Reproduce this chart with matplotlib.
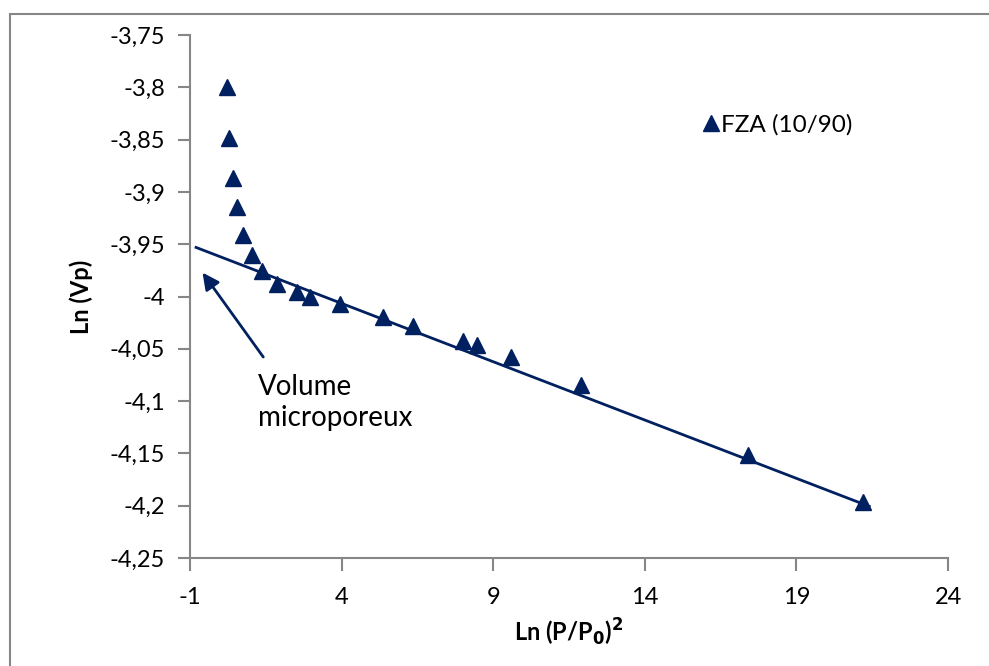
import numpy as np
import matplotlib
matplotlib.use("Agg")
import matplotlib.pyplot as plt
from matplotlib.patches import Rectangle

# data
ln_p2 = [0.22, 0.29, 0.42, 0.55, 0.75, 1.04, 1.37, 1.87, 2.53, 2.96,
         3.95, 5.37, 6.35, 8.00, 8.47, 9.59, 11.9, 17.4, 21.2]
ln_vp = [-3.800, -3.848, -3.887, -3.914, -3.941, -3.960, -3.976, -3.988, -3.996, -4.000,
         -4.007, -4.020, -4.028, -4.043, -4.046, -4.058, -4.085, -4.152, -4.196]
fit_slope = -0.01115
fit_icpt = -3.962
fit_range = [-0.8, 21.4]
series_name = "FZA (10/90)"
xticks = [-1, 4, 9, 14, 19, 24]
yticks = [-3.75, -3.8, -3.85, -3.9, -3.95, -4.0, -4.05, -4.1, -4.15, -4.2, -4.25]

navy = "#002060"
grey = "#868686"
plt.rcParams['font.family'] = ['Lato', 'DejaVu Sans']

fig = plt.figure(figsize=(9.89, 6.66), dpi=100)
# chart area border, like excel
fig.patches.append(Rectangle((9.5/989, -0.01), 1.0, (666-14)/666+0.01, transform=fig.transFigure,
                             fill=False, edgecolor=grey, lw=1.5))
ax = fig.add_axes([190/989, 108/666, 758/989, 523/666])

xf = np.array(fit_range)
ax.plot(xf, fit_icpt + fit_slope*xf, color=navy, lw=2)
ax.plot(ln_p2, ln_vp, ls='none', marker='^', ms=12, color=navy, label=series_name)

ax.annotate("", xy=(-0.64, -3.975), xytext=(1.47, -4.060),
            arrowprops=dict(arrowstyle='-|>,head_length=1.0,head_width=0.5', color=navy, lw=2))
ax.text(1.24, -4.074, "Volume\nmicroporeux", fontsize=20, va='top', ha='left', linespacing=1.25)

ax.set_xlim(-1, 24)
ax.set_ylim(-4.25, -3.75)
ax.set_xticks(xticks)
ax.set_yticks(yticks)
ax.set_xticklabels([str(v) for v in xticks])
ax.set_yticklabels([("%g" % v).replace('.', ',') for v in yticks])
for s in ['top', 'right']:
    ax.spines[s].set_visible(False)
for s in ['left', 'bottom']:
    ax.spines[s].set_color(grey)
    ax.spines[s].set_linewidth(1.5)
ax.tick_params(colors='black', labelsize=17, length=9, width=1.5)
ax.tick_params(axis='y', pad=9)
ax.tick_params(axis='x', pad=12)
ax.tick_params(axis='both', color=grey)

ax.set_ylabel("Ln (Vp)", fontsize=17, fontweight='bold', labelpad=12)
ax.set_xlabel(r"Ln (P/P$_\mathbf{0}$)$^\mathbf{2}$", fontsize=17, fontweight='bold', labelpad=6)

ax.legend(loc='upper left', bbox_to_anchor=(0.643, 0.89), frameon=False, fontsize=17.5,
          handletextpad=-0.1, handlelength=1.0, markerscale=1.0)

fig.savefig("out.png", dpi=100)
